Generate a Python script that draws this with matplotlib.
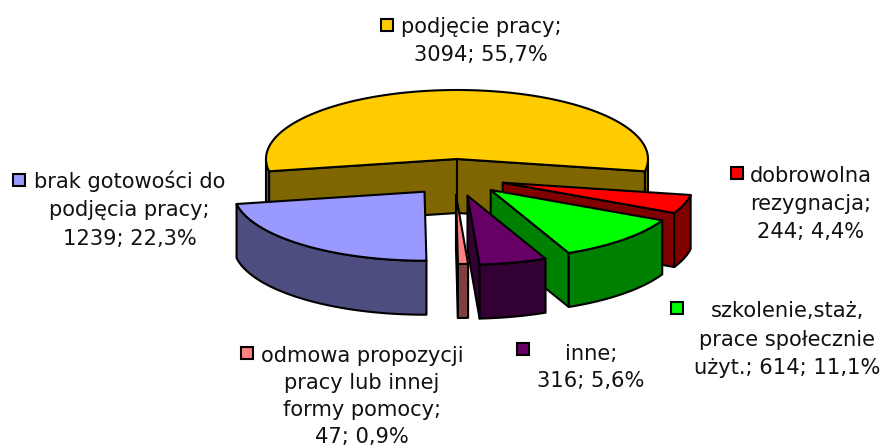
import numpy as np
import matplotlib
matplotlib.use("Agg")
import matplotlib.pyplot as plt
from matplotlib.patches import Polygon, Rectangle

categories = ["podjęcie pracy", "dobrowolna rezygnacja", "szkolenie,staż, prace społecznie użyt.",
              "inne", "odmowa propozycji pracy lub innej formy pomocy", "brak gotowości do podjęcia pracy"]
values = [3094, 244, 614, 316, 47, 1239]
label_lines = [
    ["podjęcie pracy;", "3094; 55,7%"],
    ["dobrowolna", "rezygnacja;", "244; 4,4%"],
    ["szkolenie,staż,", "prace społecznie", "użyt.; 614; 11,1%"],
    ["inne;", "316; 5,6%"],
    ["odmowa propozycji", "pracy lub innej", "formy pomocy;", "47; 0,9%"],
    ["brak gotowości do", "podjęcia pracy;", "1239; 22,3%"],
]

# styl
top_colors = ["#FFCC00", "#FF0000", "#00FF00", "#660066", "#FF8080", "#9999FF"]
side_colors = ["#806600", "#800000", "#008000", "#330033", "#804040", "#4D4D80"]

# rozsuniecie wycinkow w pikselach
explode_px = [(0, 0), (45.7, 23.7), (33.7, 31), (10.5, 36.7), (-1, 36), (-32.5, 32.7)]

# srodek, polosie, wysokosc walca
cx, cy = 457, 159
rx, ry = 191, 69
depth = 54

# x srodka tekstu, linia bazowa pierwszego wiersza, pozycja znacznika
label_x = [481, 811, 787, 591, 362, 129.5]
label_y = [33, 181.7, 317, 360, 361.7, 188]
line_step = [28, 28, 28.5, 27, 27.2, 28.5]
key_xy = [(387, 24.5), (737, 173), (677, 308), (522.5, 349), (247, 352.5), (19, 180)]

fig = plt.figure(figsize=(8.88, 4.46), dpi=100)
ax = fig.add_axes([0, 0, 1, 1])
ax.set_xlim(0, 888)
ax.set_ylim(446, 0)
ax.axis("off")

lw = 1.5


def point(theta, ox, oy, dz=0):
    # theta w stopniach, zgodnie z zegarem od gory
    t = np.radians(theta)
    return (cx + ox + rx * np.sin(t), cy + oy - ry * np.cos(t) + dz)


def face(pts, color, z):
    ax.add_patch(Polygon(pts, closed=True, facecolor=color, edgecolor="black",
                         linewidth=lw, joinstyle="round", zorder=z))


total = sum(values)
start = -values[0] / total * 180
z = 1
for i in range(len(values)):
    end = start + values[i] / total * 360
    ox, oy = explode_px[i]
    apex = (cx + ox, cy + oy)
    apex_low = (cx + ox, cy + oy + depth)

    # sciany przekroju, tylko te widoczne z przodu
    if np.sin(np.radians(start)) < 0:
        face([apex, point(start, ox, oy), point(start, ox, oy, depth), apex_low], side_colors[i], z)
        z += 1
    if np.sin(np.radians(end)) > 0:
        face([apex, point(end, ox, oy), point(end, ox, oy, depth), apex_low], side_colors[i], z)
        z += 1

    # sciana boczna: fragment luku od 90 do 270 stopni
    for a, b in [(start, end), (start + 360, end + 360)]:
        lo, hi = max(a, 90), min(b, 270)
        if hi > lo:
            arc = np.linspace(lo, hi, 80)
            upper = [point(t, ox, oy) for t in arc]
            lower = [point(t, ox, oy, depth) for t in arc[::-1]]
            face(upper + lower, side_colors[i], z)
            z += 1

    # gorna powierzchnia
    arc = np.linspace(start, end, 200)
    face([apex] + [point(t, ox, oy) for t in arc], top_colors[i], z)
    z += 1
    start = end

for i in range(len(values)):
    kx, ky = key_xy[i]
    ax.add_patch(Rectangle((kx - 6, ky - 6), 12, 12, facecolor=top_colors[i],
                           edgecolor="black", linewidth=1.5, zorder=z))
    for j, line in enumerate(label_lines[i]):
        ax.text(label_x[i], label_y[i] + j * line_step[i], line, ha="center", va="baseline",
                fontsize=15.1, family="DejaVu Sans", color="#111111", zorder=z)

fig.savefig("out.png", dpi=100)
